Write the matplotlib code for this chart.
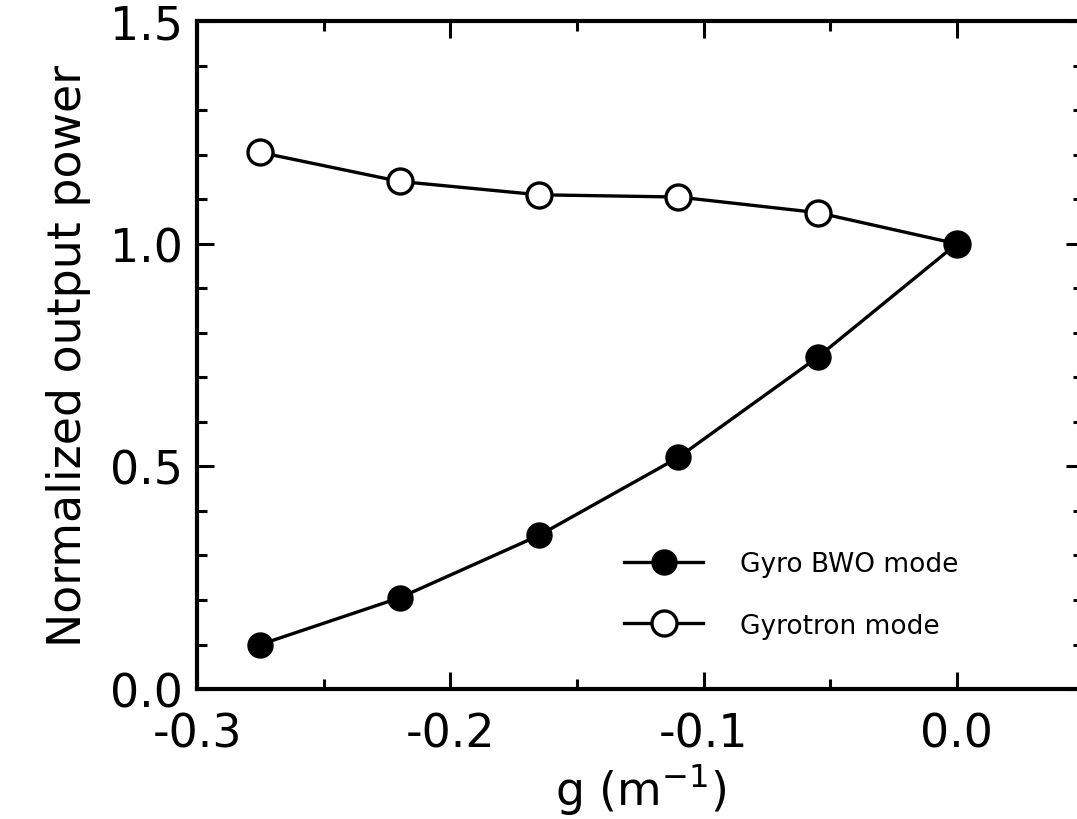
import matplotlib
matplotlib.use("Agg")
import matplotlib.pyplot as plt
from matplotlib.ticker import MultipleLocator, FuncFormatter

# Growth parameter g (1/m)
g = [-0.275, -0.22, -0.165, -0.11, -0.055, 0.0]
# Normalized output power for each operating mode
bwo_power = [0.10, 0.205, 0.345, 0.52, 0.745, 1.0]
gyrotron_power = [1.205, 1.14, 1.11, 1.105, 1.07, 1.0]

plt.rcParams['font.family'] = ['DejaVu Sans']

fig = plt.figure(figsize=(10.77, 8.2), dpi=100)
ax = fig.add_axes([0.183, 0.1585, 0.823, 0.8145])

ax.plot(g, bwo_power, color='black', lw=2.4, marker='o', ms=18,
        mfc='black', mec='black', label='Gyro BWO mode', zorder=3)
ax.plot(g, gyrotron_power, color='black', lw=2.4, marker='o', ms=18,
        mfc='white', mec='black', mew=2.4, label='Gyrotron mode', zorder=2)

ax.set_xlim(-0.3, 0.05)
ax.set_ylim(0.0, 1.5)
ax.xaxis.set_major_locator(MultipleLocator(0.1))
ax.xaxis.set_minor_locator(MultipleLocator(0.05))
ax.yaxis.set_major_locator(MultipleLocator(0.5))
ax.yaxis.set_minor_locator(MultipleLocator(0.1))

ax.tick_params(which='both', direction='in', top=True, right=True,
               width=2.2, labelsize=33)
ax.tick_params(axis='y', pad=10)
ax.tick_params(axis='x', pad=16)
ax.tick_params(which='major', length=12)
ax.tick_params(which='minor', length=7)
for s in ax.spines.values():
    s.set_linewidth(3)

ax.xaxis.set_major_formatter(FuncFormatter(lambda v, p: f"{v:.1f}"))
ax.yaxis.set_major_formatter(FuncFormatter(lambda v, p: f"{v:.1f}"))

ax.set_xlabel(r'g (m$^{-1}$)', fontsize=33, labelpad=4)
ax.set_ylabel('Normalized output power', fontsize=33, labelpad=14)

leg = ax.legend(loc='lower left', bbox_to_anchor=(0.455, 0.04), frameon=False,
                fontsize=19, handlelength=3.0, handletextpad=1.4,
                labelspacing=1.35, markerscale=1.0)

fig.savefig('out.png', dpi=100)
